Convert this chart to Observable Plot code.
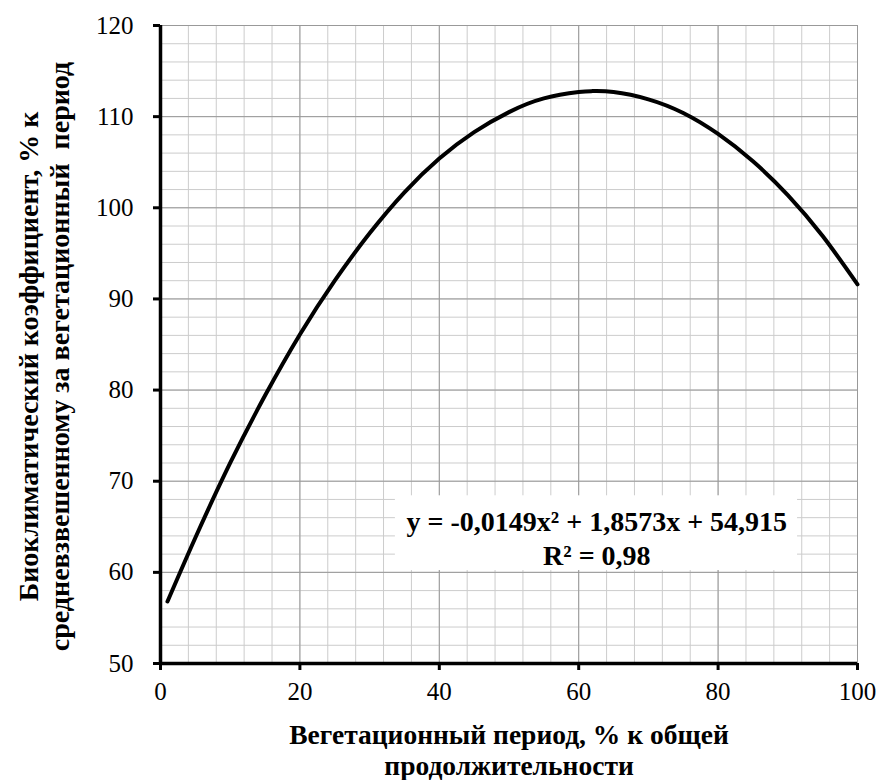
<!DOCTYPE html>
<html><head><meta charset="utf-8">
<script src="https://cdn.jsdelivr.net/npm/d3@7"></script>
<script src="https://cdn.jsdelivr.net/npm/@observablehq/plot@0.6"></script>
<style>body{margin:0;background:#fff} svg text{font-family:'Liberation Serif','Times New Roman',serif}</style>
</head><body><div id="chart"></div>
<script>
// Values
const xValues = [1, 5, 10, 15, 20, 25, 30, 35, 40, 45, 50, 55, 60, 62, 65, 70, 75, 80, 85, 90, 95, 100];
const yValues = [56.8, 63.8, 72.0, 79.4, 86.1, 92.0, 97.2, 101.7, 105.4, 108.3, 110.5, 112.0, 112.7, 112.8, 112.7, 111.9, 110.4, 108.1, 105.1, 101.4, 96.9, 91.6];
const xTicks = [0, 20, 40, 60, 80, 100];
const yTicks = [50, 60, 70, 80, 90, 100, 110, 120];
const xTitleLines = ["Вегетационный период, % к общей", "продолжительности"];
const yTitleLines = ["Биоклиматический коэффициент, % к", "средневзвешенному за вегетационный  период"];
const equationText = ["y = -0,0149x² + 1,8573x + 54,915\nR² = 0,98"];
const annotationBox = [{x1: 33.7, x2: 91.4, y1: 60.2, y2: 68.4, xc: 62.6, yc: 63.9}];

const data = xValues.map((x, i) => ({x, y: yValues[i]}));
const font = "'Liberation Serif', 'Times New Roman', serif";

const chart = Plot.plot({
  width: 882, height: 780,
  marginLeft: 160, marginRight: 25, marginTop: 25, marginBottom: 117,
  x: {domain: [0, 100]},
  y: {domain: [50, 120]},
  style: {fontFamily: font, background: "#fff", color: "#000"},
  marks: [
    Plot.gridX(d3.range(0, 101, 4), {stroke: "#cccccc", strokeOpacity: 1, strokeWidth: 1}),
    Plot.gridY(d3.range(50, 121, 2), {stroke: "#cccccc", strokeOpacity: 1, strokeWidth: 1}),
    Plot.gridX(xTicks, {stroke: "#999999", strokeOpacity: 1, strokeWidth: 1}),
    Plot.gridY(yTicks, {stroke: "#999999", strokeOpacity: 1, strokeWidth: 1}),
    Plot.rect(annotationBox, {x1: "x1", x2: "x2", y1: "y1", y2: "y2", fill: "white"}),
    Plot.text(equationText, {x: () => annotationBox[0].xc, y: () => annotationBox[0].yc, text: d => d,
      fontSize: 28, fontWeight: "bold", lineHeight: 1.21, fill: "#000", fontFamily: font}),
    Plot.line(data, {x: "x", y: "y", curve: "natural", stroke: "#000", strokeWidth: 4}),
    Plot.ruleX([0], {stroke: "#000", strokeWidth: 3.5}),
    Plot.ruleY([50], {stroke: "#000", strokeWidth: 3.5}),
    Plot.axisX(xTicks, {tickSize: 7, tickPadding: 12, fontSize: 25, strokeWidth: 3, label: null, tickFormat: d => String(d), fontFamily: font}),
    Plot.axisY(yTicks, {tickSize: 7, tickPadding: 20, fontSize: 25, strokeWidth: 3, label: null, tickFormat: d => String(d), fontFamily: font}),
    Plot.text([xTitleLines[0]], {frameAnchor: "bottom", lineAnchor: "middle", dy: 72, text: d => d, fontSize: 27.5, fontWeight: "bold", fill: "#000", fontFamily: font}),
    Plot.text([xTitleLines[1]], {frameAnchor: "bottom", lineAnchor: "middle", dy: 103, text: d => d, fontSize: 27.5, fontWeight: "bold", fill: "#000", fontFamily: font}),
    Plot.text([yTitleLines[0]], {frameAnchor: "left", textAnchor: "middle", lineAnchor: "middle", dx: -131, dy: 12, rotate: -90, text: d => d, fontSize: 28, fontWeight: "bold", fill: "#000", fontFamily: font}),
    Plot.text([yTitleLines[1]], {frameAnchor: "left", textAnchor: "middle", lineAnchor: "middle", dx: -100, dy: 12, rotate: -90, text: d => d, fontSize: 28, fontWeight: "bold", fill: "#000", fontFamily: font})
  ]
});
document.getElementById("chart").appendChild(chart);
</script>
</body></html>
